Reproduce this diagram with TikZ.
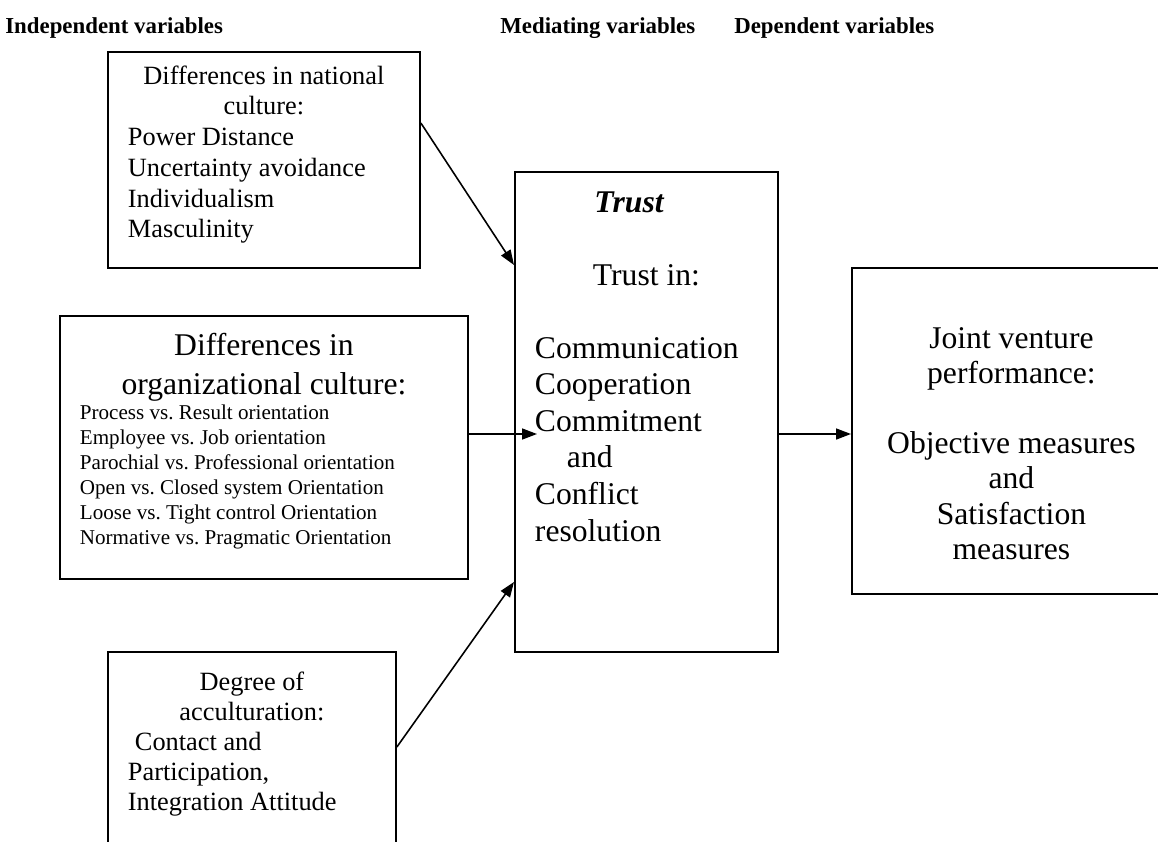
\documentclass[tikz,border=0pt]{standalone}
\usepackage{fontspec}
\setmainfont{Liberation Serif}
\frenchspacing
\usetikzlibrary{arrows.meta, positioning, calc}
\tikzset{
    box/.style={rectangle, draw, line width=1.1pt, anchor=north west, inner xsep=0.4cm, inner ysep=0pt},
    heading/.style={anchor=west, inner sep=0pt, font=\bfseries\fontsize{13}{15}\selectfont},
    link/.style={-{Triangle[length=0.3cm, width=0.22cm]}, line width=0.9pt}
}

\begin{document}
\begin{tikzpicture}[x=0.02cm, y=-0.02cm]
    \useasboundingbox (0,0) rectangle (1158,841);
    \clip (0,0) rectangle (1158,841);

    % Headings
    \node[heading] (hind) at (5,28) {Independent variables};
    \node[heading] (hmed) at (500,28) {Mediating variables};
    \node[heading] (hdep) at (734,28) {Dependent variables};

    % Independent variables
    \node[box, font=\fontsize{15}{17.5}\selectfont] (nat) at (107,51)
        {\parbox[c][4.32cm][t]{5.44cm}{\vspace*{0.27cm}
         {\centering Differences in national\\ culture:\par}
         \raggedright Power Distance\\ Uncertainty avoidance\\ Individualism\\ Masculinity}};
    \node[box] (org) at (59,315)
        {\parbox[c][5.26cm][t]{7.36cm}{\vspace*{0.35cm}
         {\centering\fontsize{18}{22.2}\selectfont Differences in\\ organizational culture:\par}
         \raggedright\fontsize{12}{14.2}\selectfont
         Process vs. Result orientation\\ Employee vs. Job orientation\\ Parochial vs. Professional orientation\\
         Open vs. Closed system Orientation\\ Loose vs. Tight control Orientation\\ Normative vs. Pragmatic Orientation}};
    \node[box, font=\fontsize{15}{17}\selectfont] (acc) at (107,651)
        {\parbox[c][5cm][t]{4.96cm}{\vspace*{0.4cm}
         {\centering Degree of\\ acculturation:\par}
         \raggedright\hspace*{0.14cm}Contact and\\ Participation,\\ Integration Attitude}};

    % Mediating variables
    \node[box, font=\fontsize{18}{20.8}\selectfont] (trust) at (514,171)
        {\parbox[c][9.6cm][t]{4.46cm}{\vspace*{0.39cm}
         {\centering\hspace*{-0.68cm}\textbf{\textit{Trust}}\\[20.8pt] Trust in:\par}
         \vspace{20.8pt}\raggedright
         Communication\\ Cooperation\\ Commitment\\ \hspace*{0.64cm}and\\ Conflict\\ resolution}};

    % Dependent variables
    \node[box, font=\fontsize{18}{20}\selectfont] (jv) at (851,267)
        {\parbox[c][6.52cm][t]{5.58cm}{\vspace*{1.19cm}
         \centering Joint venture\\ performance:\\[20pt] Objective measures\\ and\\ Satisfaction\\ measures}};

    % Links
    \draw[link] (nat.east |- 0,123) -- (trust.west |- 0,265);
    \draw[link] (org.east |- 0,434) -- ([xshift=0.46cm]trust.west |- 0,434);
    \draw[link] (acc.east |- 0,747) -- (trust.west |- 0,582);
    \draw[link] (trust.east |- 0,434) -- (jv.west |- 0,434);
\end{tikzpicture}
\end{document}
